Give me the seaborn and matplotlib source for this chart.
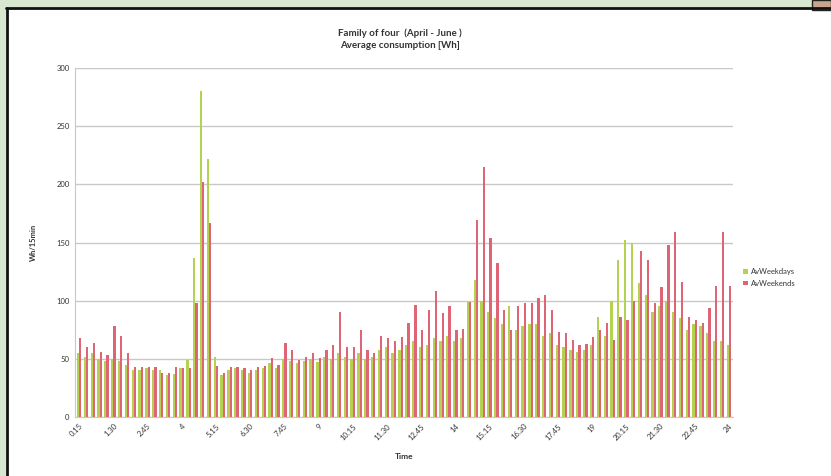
import matplotlib
matplotlib.use("Agg")
import matplotlib.pyplot as plt
from matplotlib.patches import Rectangle
from matplotlib.lines import Line2D
import seaborn as sns
import pandas as pd

times = ["0.15", "0.30", "0.45", "1", "1.15", "1.30", "1.45", "2", "2.15", "2.30", "2.45", "3",
         "3.15", "3.30", "3.45", "4", "4.15", "4.30", "4.45", "5", "5.15", "5.30", "5.45", "6",
         "6.15", "6.30", "6.45", "7", "7.15", "7.30", "7.45", "8", "8.15", "8.30", "8.45", "9",
         "9.15", "9.30", "9.45", "10", "10.15", "10.30", "10.45", "11", "11.15", "11.30", "11.45", "12",
         "12.15", "12.30", "12.45", "13", "13.15", "13.30", "13.45", "14", "14.15", "14.30", "14.45", "15",
         "15.15", "15.30", "15.45", "16", "16.15", "16.30", "16.45", "17", "17.15", "17.30", "17.45", "18",
         "18.15", "18.30", "18.45", "19", "19.15", "19.30", "19.45", "20", "20.15", "20.30", "20.45", "21",
         "21.15", "21.30", "21.45", "22", "22.15", "22.30", "22.45", "23", "23.15", "23.30", "23.45", "24"]

weekdays = [55, 52, 55, 50, 48, 50, 48, 45, 40, 40, 42, 40,
            40, 36, 37, 42, 49, 137, 280, 222, 52, 36, 40, 42,
            40, 38, 40, 42, 46, 42, 50, 48, 46, 48, 50, 47,
            52, 50, 55, 52, 50, 55, 50, 52, 58, 60, 55, 58,
            62, 65, 60, 62, 68, 65, 70, 65, 68, 99, 118, 100,
            90, 85, 80, 95, 75, 78, 80, 80, 70, 72, 62, 60,
            58, 56, 58, 62, 86, 70, 100, 135, 152, 150, 115, 105,
            90, 95, 100, 90, 85, 75, 80, 78, 72, 65, 65, 62]

weekends = [68, 60, 64, 56, 53, 78, 70, 55, 43, 43, 43, 43,
            38, 38, 43, 42, 42, 98, 202, 167, 44, 38, 43, 43,
            42, 40, 43, 44, 51, 45, 64, 58, 49, 52, 55, 51,
            58, 62, 90, 60, 60, 75, 58, 55, 70, 68, 65, 69,
            81, 96, 75, 92, 108, 89, 95, 75, 76, 99, 169, 215,
            154, 132, 92, 75, 95, 98, 98, 102, 105, 92, 73, 72,
            66, 62, 63, 69, 75, 81, 66, 86, 83, 100, 143, 135,
            98, 112, 148, 159, 116, 86, 83, 81, 94, 113, 159, 113]

series_names = ["AvWeekdays", "AvWeekends"]
yticks = [0, 50, 100, 150, 200, 250, 300]

df = pd.DataFrame({
    "Time": times * 2,
    "value": weekdays + weekends,
    "series": [series_names[0]] * len(times) + [series_names[1]] * len(times),
})

sns.set_style("white")
plt.rcParams["font.family"] = ["Lato", "DejaVu Sans"]

fig = plt.figure(figsize=(8.31, 4.76), dpi=100)
W, H = 831, 476

# screenshot frame
fig.patches.append(Rectangle((0, 1 - 7 / H), 1, 7 / H, transform=fig.transFigure,
                             facecolor="#d8e7cf", edgecolor="none", zorder=0))
fig.patches.append(Rectangle((0, 0), 6 / W, 1, transform=fig.transFigure,
                             facecolor="#d8e7cf", edgecolor="none", zorder=0))
fig.patches.append(Rectangle((812 / W, 1 - 10 / H), 19 / W, 10 / H, transform=fig.transFigure,
                             facecolor="#c9a58c", edgecolor="#222222", linewidth=1.0, zorder=1))
fig.lines.append(Line2D([6 / W, 1], [1 - 8 / H, 1 - 8 / H], transform=fig.transFigure,
                        color="#111111", linewidth=2.0))
fig.lines.append(Line2D([7 / W, 7 / W], [0, 1 - 8 / H], transform=fig.transFigure,
                        color="#111111", linewidth=2.0))

ax = fig.add_axes([75 / W, 1 - 417 / H, (733 - 75) / W, (417 - 68) / H])
palette = {"AvWeekdays": "#b3d350", "AvWeekends": "#de6476"}
sns.barplot(data=df, x="Time", y="value", hue="series", order=times, hue_order=series_names,
            palette=palette, width=0.66, ax=ax, legend=True, saturation=1.0, linewidth=0,
            zorder=3)

ax.set_ylim(0, 300)
ax.set_yticks(yticks)
ax.set_yticklabels([str(v) for v in yticks], fontsize=5.5, color="#333333")
ax.yaxis.grid(True, color="#c8c8c8", linewidth=1.0, zorder=0)
ax.set_axisbelow(True)
ax.set_xlim(-0.6, len(times) - 0.4)
pos = list(range(0, len(times), 5))
ax.set_xticks(pos)
ax.set_xticklabels([times[p] for p in pos], rotation=45, ha="right", rotation_mode="anchor",
                   fontsize=5.5, color="#333333")
ax.tick_params(axis="both", length=0, pad=4)
for s in ["top", "right"]:
    ax.spines[s].set_visible(False)
ax.spines["left"].set_color("#c8c8c8")
ax.spines["bottom"].set_color("#c8c8c8")

ax.set_xlabel("Time", fontsize=6, fontweight="bold", color="#333333", labelpad=8)
ax.set_ylabel("Wh/15min", fontsize=5.5, fontweight="bold", color="#333333", labelpad=14)

fig.text(400 / W, 1 - 33 / H, "Family of four  (April - June )", ha="center", va="center",
         fontsize=7, fontweight="bold", color="#333333")
fig.text(400 / W, 1 - 45 / H, "Average consumption [Wh]", ha="center", va="center",
         fontsize=7, fontweight="bold", color="#333333")

leg = ax.legend(loc="center left", bbox_to_anchor=(1.005, 0.4), frameon=False, fontsize=5.5,
                handlelength=0.6, handleheight=0.6, handletextpad=0.4, labelspacing=0.6)
for t in leg.get_texts():
    t.set_color("#333333")

fig.savefig("out.png", dpi=100, facecolor="white")
